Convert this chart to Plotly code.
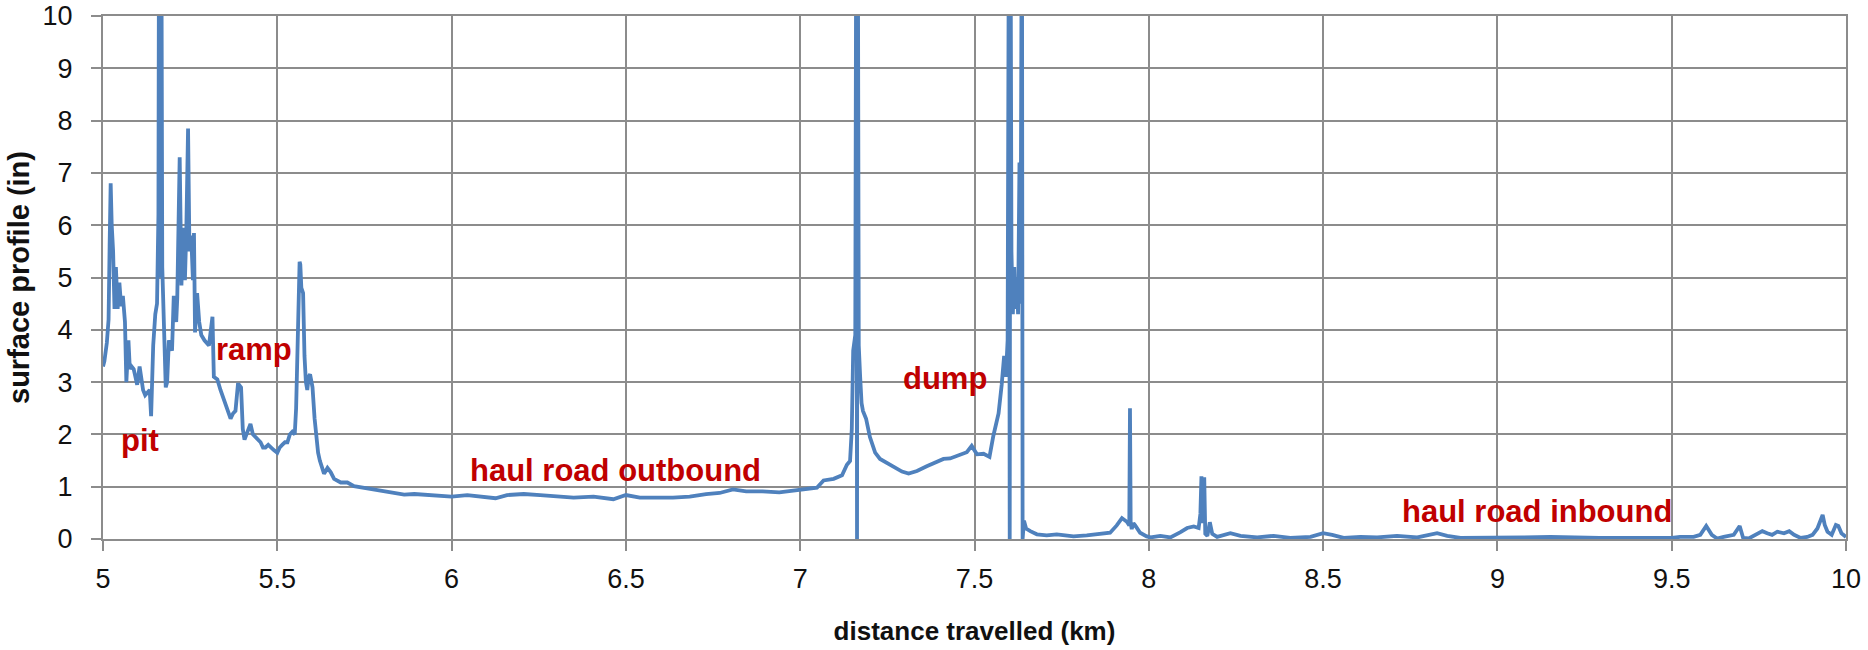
import plotly.graph_objects as go

# ---- data (distance in km, surface profile in inches) ----
# values above 10 are clipped spikes (run off the top of the axis)
pit_km = [5.000, 5.004, 5.011, 5.016, 5.019, 5.022, 5.025, 5.029, 5.033, 5.037,
          5.042, 5.047, 5.052, 5.057, 5.063, 5.067, 5.073, 5.077, 5.082, 5.088,
          5.093, 5.098, 5.105, 5.110, 5.115, 5.121, 5.126, 5.134, 5.138, 5.144,
          5.150, 5.155, 5.159, 5.161, 5.165, 5.167, 5.170, 5.174, 5.180, 5.184,
          5.189, 5.194, 5.198, 5.203, 5.210, 5.213, 5.216, 5.220, 5.225, 5.230,
          5.235, 5.239, 5.244, 5.248, 5.253, 5.258, 5.261, 5.264, 5.270, 5.276,
          5.282, 5.291]
pit_in = [3.3, 3.4, 3.75, 4.2, 5.6, 6.8, 6.0, 5.5, 4.4, 5.2,
          4.4, 4.9, 4.45, 4.65, 4.15, 3.0, 3.8, 3.25, 3.3, 3.25,
          3.1, 2.95, 3.3, 3.0, 2.85, 2.75, 2.8, 2.85, 2.35, 3.7,
          4.3, 4.5, 6.2, 13, 5.0, 13, 5.2, 4.15, 2.9, 3.0,
          3.8, 3.7, 3.6, 4.65, 4.15, 4.6, 5.95, 7.3, 4.85, 5.95,
          4.95, 5.9, 7.85, 5.5, 5.8, 4.95, 5.85, 3.95, 4.7, 4.15,
          3.9, 3.8]

ramp_km = [5.304, 5.314, 5.318, 5.328, 5.337, 5.345, 5.352, 5.360, 5.366, 5.373,
           5.380, 5.387, 5.390, 5.396, 5.401, 5.406, 5.414, 5.423, 5.430, 5.438,
           5.445, 5.452, 5.459, 5.466, 5.474, 5.481, 5.490, 5.500, 5.507, 5.514,
           5.522, 5.529, 5.536, 5.543, 5.550, 5.554, 5.557, 5.561, 5.564, 5.566,
           5.569, 5.574, 5.578, 5.582, 5.586, 5.590, 5.594, 5.601, 5.607, 5.612,
           5.617, 5.622, 5.626, 5.634, 5.639, 5.644, 5.653, 5.663]
ramp_in = [3.7, 4.25, 3.1, 3.05, 2.85, 2.7, 2.6, 2.45, 2.3, 2.4,
           2.45, 2.95, 2.95, 2.9, 2.1, 1.9, 2.05, 2.2, 2.0, 1.95,
           1.9, 1.85, 1.75, 1.75, 1.8, 1.75, 1.7, 1.65, 1.75, 1.8,
           1.85, 1.85, 2.0, 2.05, 2.0, 2.5, 3.3, 4.6, 5.3, 5.25,
           4.8, 4.7, 3.5, 3.0, 2.85, 3.1, 3.15, 2.9, 2.3, 1.9,
           1.65, 1.5, 1.4, 1.25, 1.3, 1.36, 1.28, 1.15]

outbound_km = [5.682, 5.701, 5.720, 5.749, 5.778, 5.806, 5.835, 5.864, 5.893, 5.94,
               6.0, 6.045, 6.083, 6.126, 6.159, 6.207, 6.254, 6.292, 6.35, 6.407,
               6.464, 6.5, 6.54, 6.588, 6.635, 6.683, 6.73, 6.769, 6.807, 6.845,
               6.892, 6.94, 6.988, 7.0, 7.048, 7.067, 7.096, 7.12, 7.134, 7.143]
outbound_in = [1.08, 1.08, 1.01, 0.98, 0.94, 0.91, 0.88, 0.85, 0.86, 0.84,
               0.81, 0.84, 0.82, 0.78, 0.84, 0.86, 0.84, 0.82, 0.79, 0.81,
               0.76, 0.84, 0.79, 0.79, 0.79, 0.81, 0.86, 0.88, 0.95, 0.91,
               0.91, 0.89, 0.93, 0.93, 0.98, 1.12, 1.15, 1.22, 1.42, 1.49]

dump_km = [7.148, 7.152, 7.155, 7.158, 7.161, 7.163, 7.165, 7.168, 7.172, 7.176,
           7.180, 7.189, 7.200, 7.215, 7.229, 7.249, 7.272, 7.292, 7.311, 7.335,
           7.363, 7.387, 7.411, 7.430, 7.454, 7.478, 7.492, 7.507, 7.526, 7.543,
           7.554, 7.562, 7.569, 7.578, 7.585, 7.590, 7.595, 7.599, 7.601, 7.603,
           7.606, 7.610, 7.614, 7.617, 7.621, 7.625, 7.629, 7.632, 7.636, 7.638,
           7.642, 7.648, 7.660]
dump_in = [2.1, 3.6, 3.75, 3.9, 13, 0, 13, 3.7, 3.1, 2.6,
           2.45, 2.3, 1.95, 1.65, 1.53, 1.46, 1.36, 1.29, 1.25, 1.3,
           1.39, 1.46, 1.53, 1.54, 1.6, 1.66, 1.78, 1.62, 1.63, 1.57,
           1.97, 2.2, 2.4, 2.95, 3.5, 3.1, 3.8, 13, 0, 13,
           5.5, 4.3, 5.2, 4.4, 5.0, 4.3, 7.2, 4.5, 13, 0,
           0.35, 0.2, 0.15]

inbound_km = [7.679, 7.707, 7.736, 7.760, 7.784, 7.822, 7.86, 7.889, 7.908, 7.923,
              7.937, 7.944, 7.946, 7.948, 7.951, 7.956, 7.961, 7.975, 7.994, 8.005,
              8.033, 8.062, 8.091, 8.11, 8.129, 8.143, 8.148, 8.151, 8.155, 8.159,
              8.162, 8.168, 8.175, 8.182, 8.196, 8.234, 8.263, 8.311, 8.358, 8.406,
              8.464, 8.5, 8.526, 8.559, 8.607, 8.655, 8.712, 8.77, 8.827, 8.856,
              8.894, 8.961, 9.017, 9.075, 9.152, 9.208, 9.293, 9.389, 9.45, 9.5,
              9.524, 9.563, 9.582, 9.599, 9.615, 9.63, 9.649, 9.678, 9.695, 9.705,
              9.721, 9.74, 9.76, 9.774, 9.788, 9.803, 9.822, 9.837, 9.851, 9.87,
              9.889, 9.904, 9.918, 9.933, 9.939, 9.947, 9.959, 9.971, 9.978, 9.987,
              10.0]
inbound_in = [0.09, 0.07, 0.09, 0.07, 0.05, 0.07, 0.09, 0.12, 0.26, 0.4,
              0.33, 0.26, 2.5, 0.3, 0.19, 0.3, 0.26, 0.12, 0.05, 0.03,
              0.06, 0.03, 0.13, 0.21, 0.24, 0.21, 0.48, 1.2, 0.3, 1.18,
              0.1, 0.06, 0.32, 0.1, 0.04, 0.11, 0.06, 0.03, 0.06, 0.02,
              0.04, 0.11, 0.08, 0.02, 0.04, 0.03, 0.06, 0.03, 0.11, 0.06,
              0.02, 0.02, 0.02, 0.03, 0.04, 0.03, 0.02, 0.02, 0.02, 0.02,
              0.04, 0.04, 0.08, 0.25, 0.08, 0.01, 0.04, 0.08, 0.25, 0.02,
              0.01, 0.08, 0.15, 0.11, 0.08, 0.14, 0.11, 0.15, 0.08, 0.02,
              0.04, 0.08, 0.2, 0.46, 0.27, 0.14, 0.08, 0.27, 0.25, 0.11,
              0.04]

x_tick_vals = [5, 5.5, 6, 6.5, 7, 7.5, 8, 8.5, 9, 9.5, 10]
x_tick_text = ["5", "5.5", "6", "6.5", "7", "7.5", "8", "8.5", "9", "9.5", "10"]
y_tick_vals = [0, 1, 2, 3, 4, 5, 6, 7, 8, 9, 10]

label_text = ["pit", "ramp", "haul road outbound", "dump", "haul road inbound"]
label_km = [5.107, 5.432, 6.47, 7.416, 9.115]
label_in = [1.89, 3.63, 1.31, 3.06, 0.52]

segments = [(pit_km, pit_in), (ramp_km, ramp_in), (outbound_km, outbound_in),
            (dump_km, dump_in), (inbound_km, inbound_in)]
for a, b in segments:
    assert len(a) == len(b), (len(a), len(b))

distance = [v for seg in segments for v in seg[0]]
profile = [v for seg in segments for v in seg[1]]

GRID = "#8C8C8C"
RED = "#C00000"

fig = go.Figure()
fig.add_trace(go.Scatter(x=distance, y=profile, mode="lines",
                         line=dict(color="#4F81BD", width=3.8),
                         hoverinfo="x+y"))

for t, xk, yv in zip(label_text, label_km, label_in):
    fig.add_annotation(x=xk, y=yv, text=t, showarrow=False,
                       xanchor="center", yanchor="middle",
                       font=dict(family="Liberation Sans", size=31, color=RED, weight="bold"))

axis_common = dict(showgrid=True, gridcolor=GRID, gridwidth=2,
                   showline=True, linecolor=GRID, linewidth=2, mirror=True,
                   ticks="outside", ticklen=10, tickwidth=2, tickcolor=GRID,
                   zeroline=False, ticklabeloverflow="allow",
                   tickfont=dict(family="Liberation Sans", size=27, color="#111111"))

fig.update_xaxes(range=[5, 10], tickvals=x_tick_vals, ticktext=x_tick_text,
                 ticklabelstandoff=5,
                 title=dict(text="distance travelled (km)", standoff=28,
                            font=dict(family="Liberation Sans", size=26, color="#111111", weight="bold")),
                 **axis_common)
fig.update_yaxes(range=[0, 10], tickvals=y_tick_vals,
                 ticklabelstandoff=13,
                 title=dict(text="surface profile (in)", standoff=4,
                            font=dict(family="Liberation Sans", size=29, color="#111111", weight="bold")),
                 **axis_common)

fig.update_layout(width=1868, height=650,
                  margin=dict(l=103, r=22, t=16, b=111, autoexpand=False),
                  plot_bgcolor="white", paper_bgcolor="white",
                  showlegend=False)

# remove the default 8px page margin so the figure sits at the window's top-left corner
fig.write_html("out.html", config={"displayModeBar": False},
               post_script="document.body.style.margin='0px';")
